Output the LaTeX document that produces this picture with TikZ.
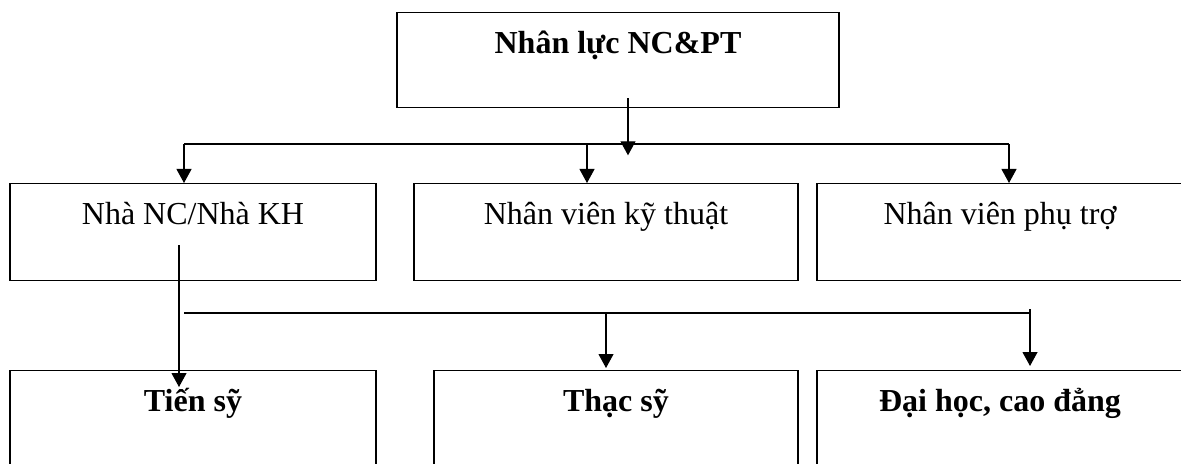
\documentclass[tikz,border=0pt]{standalone}
\usepackage{fontspec}
\setmainfont{Liberation Serif}
\usetikzlibrary{arrows.meta, calc, positioning}

\begin{document}
\begin{tikzpicture}[x=0.5pt, y=-0.5pt,
    every node/.style={font=\fontsize{16}{19}\selectfont},
    hop/.style={draw, line width=0.65pt, anchor=north, inner sep=0pt, minimum width=183pt, text height=20.5pt, text depth=#1},
    dam/.style={font=\fontsize{16}{19}\selectfont\bfseries},
    bus/.style={line width=0.75pt},
    ten/.style={line width=0.55pt, -{Triangle[length=7pt,width=7.5pt]}}]
			      \useasboundingbox (0,0) rectangle (1181,464);

			      \node[hop=27pt, dam, minimum width=221pt] (nl) at (618,12) {Nhân lực NC\&PT};
			      \node[hop=28pt] (nc) at (193,183) {Nhà NC/Nhà KH};
			      \node[hop=28pt, minimum width=192pt] (kt) at (606,183) {Nhân viên kỹ thuật};
			      \node[hop=28pt] (ph) at (1000,183) {Nhân viên phụ trợ};
			      \node[hop=28pt, dam] (ts) at (193,370) {Tiến sỹ};
			      \node[hop=28pt, dam, minimum width=182pt] (ths) at (616,370) {Thạc sỹ};
			      \node[hop=28pt, dam] (dh) at (1000,370) {Đại học, cao đẳng};

			      % first level
			      \coordinate (b1w) at (184,144);
			      \coordinate (b1e) at (1009,144);
			      \draw[ten] ($(nl.south)+(10,-10)$) -- ($(nl.south)+(10,47)$);
			      \draw[bus] (b1w) -- (b1e);
			      \draw[ten] (b1w) -- (b1w |- nc.north);
			      \draw[ten] ($(b1w -| kt.north)+(-19,0)$) -- ($(kt.north)+(-19,0)$);
			      \draw[ten] (b1e) -- (b1e |- ph.north);

			      % second level
			      \coordinate (b2w) at (184,313);
			      \coordinate (b2e) at (1030,313);
			      \draw[ten] ($(nc.south)+(-14,-36)$) -- ($(ts.north)+(-14,17)$);
			      \draw[bus] (b2w) -- (b2e);
			      \draw[ten] ($(b2w -| ths.north)+(-10,0)$) -- ($(ths.north)+(-10,-2)$);
			      \draw[ten] ($(b2e)+(0,-4)$) -- ($(b2e |- dh.north)+(0,-4)$);
		      \end{tikzpicture}
\end{document}
